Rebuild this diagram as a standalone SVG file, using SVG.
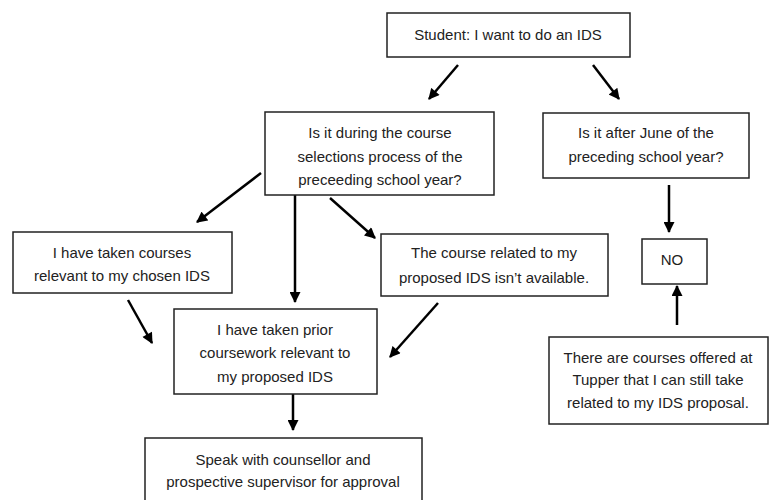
<svg xmlns="http://www.w3.org/2000/svg" width="769" height="500" viewBox="0 0 769 500">
<style>
.box{fill:#fff;stroke:#222;stroke-width:1.5}
.t{font-family:"Liberation Sans",Arial,sans-serif;font-size:15px;fill:#222;text-anchor:middle}
.c{stroke:#000;stroke-width:2.5;fill:none;marker-end:url(#ah)}
</style>
<defs>
<marker id="ah" viewBox="0 0 10 10" refX="9" refY="5" markerWidth="12" markerHeight="11" markerUnits="userSpaceOnUse" orient="auto">
<path d="M0,0 L10,5 L0,10 z" fill="#000"/>
</marker>
</defs>
<rect width="769" height="500" fill="#fff"/>
<g id="connectors">
<line class="c" x1="458" y1="65" x2="429" y2="99"/>
<line class="c" x1="593" y1="65" x2="619" y2="99"/>
<line class="c" x1="261" y1="173" x2="197" y2="222"/>
<line class="c" x1="295" y1="195" x2="295" y2="302"/>
<line class="c" x1="330" y1="198" x2="375" y2="238"/>
<line class="c" x1="128" y1="300" x2="152" y2="343"/>
<line class="c" x1="438" y1="303" x2="390" y2="357"/>
<line class="c" x1="293" y1="394" x2="293" y2="430"/>
<line class="c" x1="669" y1="185" x2="669" y2="232"/>
<line class="c" x1="677" y1="325" x2="677" y2="286"/>
</g>
<g id="student">
<rect class="box" x="387" y="13" width="243" height="44"/>
<text class="t" x="508" y="40">Student: I want to do an IDS</text>
</g>
<g id="during">
<rect class="box" x="265" y="112" width="229" height="83"/>
<text class="t" x="380" y="138">Is it during the course</text>
<text class="t" x="380" y="162">selections process of the</text>
<text class="t" x="380" y="185">preceeding school year?</text>
</g>
<g id="after">
<rect class="box" x="543" y="113" width="206" height="65"/>
<text class="t" x="646" y="138">Is it after June of the</text>
<text class="t" x="646" y="162">preceding school year?</text>
</g>
<g id="no">
<rect class="box" x="642" y="239" width="65" height="45"/>
<text class="t" x="672" y="265">NO</text>
</g>
<g id="taken">
<rect class="box" x="13" y="232" width="219" height="61"/>
<text class="t" x="122" y="258">I have taken courses</text>
<text class="t" x="122" y="281">relevant to my chosen IDS</text>
</g>
<g id="unavailable">
<rect class="box" x="381" y="234" width="227" height="62"/>
<text class="t" x="494" y="258">The course related to my</text>
<text class="t" x="494" y="283">proposed IDS isn’t available.</text>
</g>
<g id="prior">
<rect class="box" x="174" y="309" width="203" height="85"/>
<text class="t" x="275" y="335">I have taken prior</text>
<text class="t" x="275" y="358">coursework relevant to</text>
<text class="t" x="275" y="382">my proposed IDS</text>
</g>
<g id="tupper">
<rect class="box" x="549" y="337" width="219" height="87"/>
<text class="t" x="658" y="363">There are courses offered at</text>
<text class="t" x="658" y="385">Tupper that I can still take</text>
<text class="t" x="658" y="408">related to my IDS proposal.</text>
</g>
<g id="speak">
<rect class="box" x="145" y="438" width="277" height="70"/>
<text class="t" x="283" y="465">Speak with counsellor and</text>
<text class="t" x="283" y="487">prospective supervisor for approval</text>
</g>
</svg>
